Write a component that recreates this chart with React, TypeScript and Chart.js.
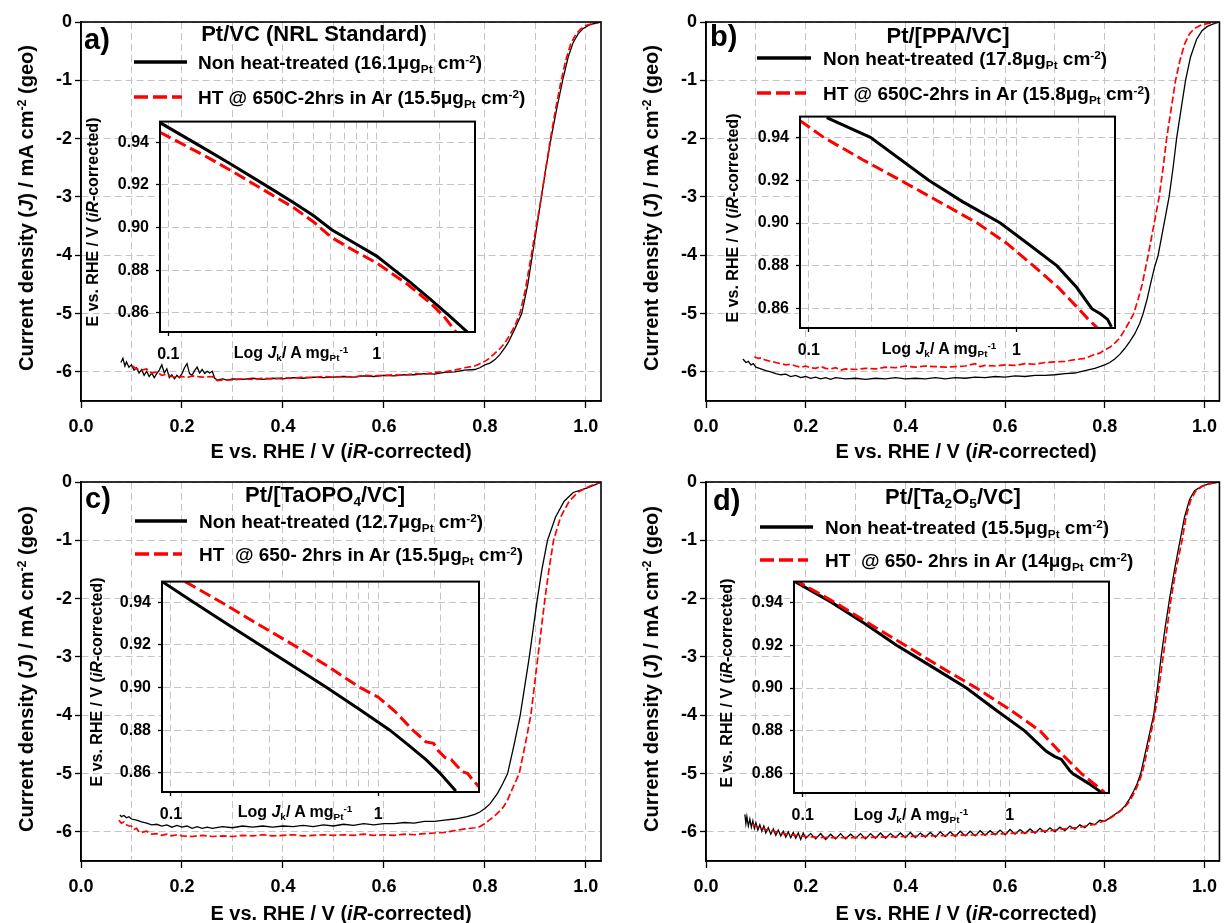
import React, { useEffect, useRef } from 'react';
import { Chart, registerables } from 'chart.js';

Chart.register(...registerables);

type Pt = [number, number];

// ---------------- data (E vs RHE / V, J / mA cm-2) ----------------
const potentialTicks = [0, 0.1, 0.2, 0.3, 0.4, 0.5, 0.6, 0.7, 0.8, 0.9, 1.0];
const currentTicks = [-6, -5, -4, -3, -2, -1, 0];
const logJkTicks = [0.1, 0.2, 0.3, 0.4, 0.5, 0.6, 0.7, 0.8, 0.9, 1, 2];
const logJkLabels = [0.1, 1];
const tafelTicks = [0.86, 0.88, 0.9, 0.92, 0.94];
const tafelRange = [0.851, 0.9497];
const insetLogRanges: Pt[] = [[0.0912, 2.963], [0.0907, 2.987], [0.0905, 3.065], [0.0908, 3.013]];

const panelLetters = ['a)', 'b)', 'c)', 'd)'];
const panelTitles = ['Pt/VC (NRL Standard)', 'Pt/[PPA/VC]', 'Pt/[TaOPO_{4}/VC]', 'Pt/[Ta_{2}O_{5}/VC]'];
const legendNonHT = [
  'Non heat-treated (16.1μg_{Pt} cm^{-2})',
  'Non heat-treated (17.8μg_{Pt} cm^{-2})',
  'Non heat-treated (12.7μg_{Pt} cm^{-2})',
  'Non heat-treated (15.5μg_{Pt} cm^{-2})',
];
const legendHT = [
  'HT @ 650C-2hrs in Ar (15.5μg_{Pt} cm^{-2})',
  'HT @ 650C-2hrs in Ar (15.8μg_{Pt} cm^{-2})',
  'HT  @ 650- 2hrs in Ar (15.5μg_{Pt} cm^{-2})',
  'HT  @ 650- 2hrs in Ar (14μg_{Pt} cm^{-2})',
];
const xTitle = 'E vs. RHE / V (*iR*-corrected)';
const yTitle = 'Current density (*J*) / mA cm^{-2} (geo)';
const insetXTitle = 'Log *J*_{k}/ A mg_{Pt}^{-1}';
const insetYTitle = 'E vs. RHE / V (*iR*-corrected)';

const aNonHT: Pt[] = [[0.079,-5.84],[0.083,-5.77],[0.087,-5.9],[0.09,-5.83],[0.095,-5.92],[0.1,-5.88],[0.105,-5.97],[0.11,-5.93],[0.115,-6.02],[0.12,-5.96],[0.125,-6.06],[0.13,-5.99],[0.135,-6.08],[0.14,-6.02],[0.145,-6.1],[0.15,-6.03],[0.155,-5.97],[0.16,-5.88],[0.165,-6.02],[0.17,-5.95],[0.175,-6.1],[0.18,-6.05],[0.185,-6.12],[0.19,-6.06],[0.195,-6.1],[0.2,-6.03],[0.205,-5.93],[0.21,-5.86],[0.215,-6.03],[0.22,-6.06],[0.225,-5.98],[0.23,-5.92],[0.235,-6.02],[0.24,-5.96],[0.245,-6.03],[0.25,-5.99],[0.255,-6.02],[0.26,-5.99],[0.265,-6.11],[0.27,-6.14],[0.28,-6.12],[0.29,-6.14],[0.3,-6.12],[0.32,-6.13],[0.34,-6.11],[0.36,-6.13],[0.38,-6.11],[0.4,-6.12],[0.42,-6.1],[0.44,-6.11],[0.46,-6.09],[0.48,-6.1],[0.5,-6.09],[0.52,-6.08],[0.54,-6.09],[0.56,-6.07],[0.58,-6.08],[0.6,-6.06],[0.62,-6.07],[0.64,-6.05],[0.66,-6.05],[0.68,-6.03],[0.7,-6.04],[0.72,-6.01],[0.74,-6.0],[0.76,-5.97],[0.78,-5.96],[0.79,-5.93],[0.8,-5.88],[0.81,-5.85],[0.82,-5.79],[0.83,-5.7],[0.84,-5.58],[0.846,-5.5],[0.86,-5.25],[0.873,-5.0],[0.885,-4.5],[0.894,-4.0],[0.903,-3.5],[0.912,-3.0],[0.921,-2.5],[0.931,-2.0],[0.942,-1.5],[0.954,-1.0],[0.965,-0.6],[0.975,-0.35],[0.985,-0.2],[0.995,-0.11],[1.005,-0.06],[1.015,-0.03],[1.03,0]];
const aHT: Pt[] = [[0.102,-5.9],[0.11,-5.95],[0.12,-5.97],[0.13,-5.95],[0.14,-6.02],[0.15,-6.0],[0.16,-6.06],[0.17,-6.04],[0.18,-6.08],[0.19,-6.1],[0.2,-6.08],[0.21,-6.1],[0.22,-6.07],[0.24,-6.09],[0.26,-6.08],[0.27,-6.15],[0.28,-6.14],[0.3,-6.14],[0.32,-6.12],[0.34,-6.13],[0.36,-6.11],[0.38,-6.12],[0.4,-6.1],[0.42,-6.11],[0.44,-6.09],[0.46,-6.1],[0.48,-6.08],[0.5,-6.09],[0.52,-6.08],[0.54,-6.09],[0.56,-6.06],[0.58,-6.07],[0.6,-6.06],[0.62,-6.05],[0.64,-6.06],[0.66,-6.03],[0.68,-6.04],[0.7,-6.01],[0.72,-6.0],[0.74,-5.97],[0.76,-5.93],[0.78,-5.9],[0.79,-5.86],[0.8,-5.82],[0.81,-5.76],[0.82,-5.68],[0.83,-5.6],[0.84,-5.5],[0.85,-5.36],[0.86,-5.2],[0.87,-4.98],[0.88,-4.6],[0.89,-4.1],[0.9,-3.6],[0.91,-3.1],[0.92,-2.55],[0.93,-2.0],[0.94,-1.5],[0.95,-1.05],[0.96,-0.66],[0.97,-0.38],[0.98,-0.21],[0.99,-0.12],[1.0,-0.06],[1.015,-0.02],[1.03,0]];

const bNonHT: Pt[] = [[0.074,-5.78],[0.08,-5.84],[0.085,-5.82],[0.09,-5.88],[0.095,-5.86],[0.1,-5.92],[0.11,-5.95],[0.12,-5.98],[0.13,-6.0],[0.14,-6.03],[0.15,-6.05],[0.16,-6.04],[0.17,-6.08],[0.18,-6.06],[0.19,-6.1],[0.2,-6.08],[0.21,-6.11],[0.22,-6.09],[0.23,-6.12],[0.24,-6.1],[0.25,-6.13],[0.26,-6.1],[0.28,-6.12],[0.3,-6.11],[0.32,-6.13],[0.34,-6.11],[0.36,-6.12],[0.38,-6.1],[0.4,-6.12],[0.42,-6.11],[0.44,-6.12],[0.46,-6.1],[0.48,-6.12],[0.5,-6.1],[0.52,-6.11],[0.54,-6.09],[0.56,-6.1],[0.58,-6.08],[0.6,-6.09],[0.62,-6.07],[0.64,-6.08],[0.66,-6.06],[0.68,-6.06],[0.7,-6.05],[0.72,-6.03],[0.74,-6.02],[0.76,-5.98],[0.78,-5.94],[0.8,-5.88],[0.81,-5.84],[0.82,-5.78],[0.83,-5.7],[0.84,-5.6],[0.85,-5.48],[0.86,-5.35],[0.87,-5.17],[0.877,-5.0],[0.885,-4.75],[0.893,-4.45],[0.9,-4.2],[0.907,-4.0],[0.918,-3.5],[0.929,-3.0],[0.937,-2.5],[0.944,-2.0],[0.953,-1.5],[0.962,-1.0],[0.972,-0.6],[0.984,-0.3],[0.995,-0.15],[1.005,-0.08],[1.015,-0.04],[1.03,0]];
const bHT: Pt[] = [[0.097,-5.74],[0.105,-5.77],[0.11,-5.76],[0.12,-5.8],[0.13,-5.82],[0.14,-5.84],[0.15,-5.86],[0.16,-5.88],[0.17,-5.87],[0.18,-5.9],[0.19,-5.92],[0.2,-5.9],[0.21,-5.93],[0.22,-5.94],[0.23,-5.91],[0.24,-5.94],[0.25,-5.95],[0.26,-5.93],[0.27,-5.97],[0.28,-5.95],[0.3,-5.96],[0.32,-5.94],[0.34,-5.95],[0.36,-5.92],[0.38,-5.93],[0.4,-5.9],[0.42,-5.92],[0.44,-5.9],[0.46,-5.91],[0.48,-5.92],[0.5,-5.91],[0.52,-5.9],[0.54,-5.86],[0.55,-5.91],[0.56,-5.89],[0.58,-5.9],[0.6,-5.88],[0.62,-5.89],[0.64,-5.86],[0.66,-5.87],[0.68,-5.84],[0.7,-5.83],[0.72,-5.82],[0.74,-5.79],[0.76,-5.77],[0.78,-5.7],[0.79,-5.68],[0.8,-5.62],[0.81,-5.58],[0.821,-5.5],[0.83,-5.42],[0.84,-5.28],[0.85,-5.13],[0.858,-5.0],[0.867,-4.75],[0.875,-4.5],[0.881,-4.25],[0.887,-4.0],[0.898,-3.5],[0.909,-3.0],[0.917,-2.5],[0.924,-2.0],[0.933,-1.5],[0.942,-1.0],[0.951,-0.65],[0.96,-0.38],[0.97,-0.2],[0.98,-0.11],[0.994,-0.05],[1.01,-0.02],[1.03,0]];

const cNonHT: Pt[] = [[0.077,-5.71],[0.08,-5.74],[0.085,-5.72],[0.09,-5.76],[0.095,-5.74],[0.1,-5.78],[0.11,-5.8],[0.12,-5.83],[0.13,-5.85],[0.14,-5.88],[0.15,-5.87],[0.16,-5.9],[0.17,-5.88],[0.18,-5.92],[0.19,-5.89],[0.2,-5.92],[0.21,-5.9],[0.22,-5.94],[0.23,-5.91],[0.24,-5.94],[0.25,-5.92],[0.26,-5.94],[0.28,-5.91],[0.3,-5.93],[0.32,-5.9],[0.34,-5.92],[0.36,-5.9],[0.38,-5.92],[0.4,-5.9],[0.42,-5.91],[0.44,-5.89],[0.46,-5.91],[0.48,-5.88],[0.5,-5.9],[0.52,-5.87],[0.54,-5.89],[0.56,-5.86],[0.58,-5.88],[0.6,-5.86],[0.62,-5.86],[0.64,-5.84],[0.66,-5.85],[0.68,-5.82],[0.7,-5.82],[0.72,-5.8],[0.74,-5.78],[0.765,-5.74],[0.78,-5.7],[0.79,-5.66],[0.8,-5.6],[0.81,-5.52],[0.825,-5.34],[0.835,-5.18],[0.845,-5.0],[0.858,-4.5],[0.87,-4.0],[0.879,-3.5],[0.888,-3.0],[0.896,-2.5],[0.904,-2.0],[0.913,-1.5],[0.924,-1.0],[0.94,-0.6],[0.957,-0.33],[0.975,-0.18],[1.003,-0.1],[1.02,-0.04],[1.03,0]];
const cHT: Pt[] = [[0.075,-5.8],[0.08,-5.85],[0.085,-5.83],[0.09,-5.88],[0.095,-5.9],[0.1,-5.9],[0.105,-5.96],[0.11,-5.94],[0.115,-6.0],[0.12,-6.01],[0.13,-5.99],[0.14,-6.04],[0.15,-6.03],[0.16,-6.06],[0.17,-6.04],[0.18,-6.07],[0.19,-6.05],[0.2,-6.07],[0.22,-6.08],[0.24,-6.06],[0.26,-6.08],[0.28,-6.07],[0.3,-6.08],[0.32,-6.06],[0.34,-6.07],[0.36,-6.05],[0.38,-6.07],[0.4,-6.06],[0.42,-6.05],[0.44,-6.07],[0.46,-6.06],[0.48,-6.05],[0.5,-6.06],[0.52,-6.05],[0.54,-6.06],[0.56,-6.04],[0.58,-6.06],[0.6,-6.05],[0.62,-6.06],[0.64,-6.04],[0.66,-6.05],[0.68,-6.03],[0.7,-6.02],[0.72,-6.01],[0.74,-5.98],[0.76,-5.95],[0.78,-5.93],[0.79,-5.91],[0.8,-5.86],[0.81,-5.79],[0.82,-5.72],[0.83,-5.64],[0.837,-5.57],[0.845,-5.45],[0.855,-5.25],[0.868,-5.0],[0.88,-4.5],[0.891,-4.0],[0.898,-3.5],[0.905,-3.0],[0.912,-2.5],[0.919,-2.0],[0.927,-1.5],[0.936,-1.0],[0.95,-0.6],[0.967,-0.33],[0.985,-0.17],[1.005,-0.08],[1.023,-0.02],[1.03,0]];

const dNonHT: Pt[] = [[0.078,-5.7],[0.08,-5.86],[0.082,-5.74],[0.085,-5.9],[0.088,-5.78],[0.091,-5.92],[0.094,-5.81],[0.097,-5.94],[0.1,-5.84],[0.104,-5.97],[0.108,-5.88],[0.112,-5.99],[0.116,-5.9],[0.12,-6.02],[0.125,-5.93],[0.13,-6.04],[0.135,-5.95],[0.14,-6.06],[0.145,-5.97],[0.15,-6.07],[0.155,-5.99],[0.16,-6.09],[0.165,-6.0],[0.17,-6.1],[0.175,-6.01],[0.18,-6.11],[0.185,-6.02],[0.19,-6.13],[0.195,-6.02],[0.2,-6.11],[0.21,-6.03],[0.22,-6.12],[0.23,-6.03],[0.24,-6.13],[0.25,-6.04],[0.26,-6.12],[0.27,-6.03],[0.28,-6.12],[0.29,-6.04],[0.3,-6.11],[0.31,-6.03],[0.32,-6.12],[0.33,-6.03],[0.34,-6.11],[0.35,-6.02],[0.36,-6.11],[0.37,-6.03],[0.38,-6.1],[0.39,-6.02],[0.4,-6.1],[0.41,-6.01],[0.42,-6.1],[0.43,-6.02],[0.44,-6.09],[0.45,-6.01],[0.46,-6.09],[0.47,-6.0],[0.48,-6.08],[0.49,-6.0],[0.5,-6.08],[0.51,-5.99],[0.52,-6.07],[0.53,-5.99],[0.54,-6.07],[0.55,-5.98],[0.56,-6.06],[0.57,-5.98],[0.58,-6.05],[0.59,-5.97],[0.6,-6.05],[0.61,-5.96],[0.62,-6.04],[0.63,-5.96],[0.64,-6.03],[0.65,-5.95],[0.66,-6.02],[0.67,-5.94],[0.68,-6.01],[0.69,-5.93],[0.7,-6.0],[0.71,-5.92],[0.72,-5.98],[0.73,-5.9],[0.74,-5.96],[0.75,-5.88],[0.76,-5.93],[0.77,-5.85],[0.78,-5.88],[0.79,-5.8],[0.8,-5.82],[0.81,-5.76],[0.822,-5.69],[0.832,-5.63],[0.841,-5.55],[0.85,-5.43],[0.858,-5.3],[0.865,-5.17],[0.872,-5.0],[0.885,-4.5],[0.898,-4.0],[0.906,-3.5],[0.913,-3.0],[0.921,-2.5],[0.93,-2.0],[0.94,-1.5],[0.951,-1.0],[0.96,-0.6],[0.97,-0.3],[0.98,-0.15],[0.995,-0.07],[1.01,-0.03],[1.03,0]];
const dHT: Pt[] = [[0.093,-5.87],[0.1,-5.9],[0.12,-5.96],[0.14,-6.0],[0.16,-6.04],[0.18,-6.06],[0.2,-6.08],[0.22,-6.09],[0.25,-6.1],[0.28,-6.1],[0.3,-6.1],[0.35,-6.09],[0.4,-6.08],[0.45,-6.07],[0.5,-6.06],[0.55,-6.05],[0.6,-6.03],[0.65,-6.01],[0.7,-5.97],[0.75,-5.92],[0.78,-5.87],[0.8,-5.81],[0.81,-5.77],[0.822,-5.7],[0.832,-5.64],[0.841,-5.57],[0.85,-5.47],[0.858,-5.35],[0.866,-5.2],[0.875,-5.0],[0.888,-4.5],[0.9,-4.0],[0.909,-3.5],[0.917,-3.0],[0.925,-2.5],[0.933,-2.0],[0.943,-1.5],[0.955,-1.0],[0.963,-0.6],[0.972,-0.32],[0.982,-0.16],[0.996,-0.07],[1.01,-0.03],[1.03,0]];

// Tafel insets: [Jk / A mgPt-1, E / V]
const aTafelNonHT: Pt[] = [[0.0912,0.9492],[0.15,0.9369],[0.2,0.9297],[0.3,0.9192],[0.4,0.9116],[0.5,0.9054],[0.608,0.899],[0.8,0.8922],[1.0,0.8866],[1.2,0.8805],[1.445,0.8744],[1.8,0.8665],[2.2,0.8592],[2.75,0.8506]];
const aTafelHT: Pt[] = [[0.0912,0.9447],[0.15,0.9336],[0.201,0.9266],[0.3,0.9165],[0.4,0.9093],[0.5,0.9025],[0.608,0.8953],[0.8,0.8885],[1.0,0.8834],[1.4,0.8735],[1.8,0.8648],[2.1,0.8584],[2.42,0.8506]];
const bTafelNonHT: Pt[] = [[0.122,0.9492],[0.198,0.94],[0.378,0.92],[0.55,0.91],[0.837,0.9],[1.15,0.89],[1.57,0.88],[1.95,0.87],[2.31,0.86],[2.55,0.8575],[2.75,0.855],[2.87,0.8515]];
const bTafelHT: Pt[] = [[0.0907,0.9478],[0.118,0.94],[0.18,0.9298],[0.276,0.92],[0.42,0.9102],[0.648,0.9],[0.9,0.8905],[1.21,0.88],[1.6,0.8697],[1.995,0.86],[2.2,0.8555],[2.49,0.8505]];
const cTafelNonHT: Pt[] = [[0.0906,0.9497],[0.1285,0.94],[0.185,0.93],[0.269,0.92],[0.39,0.91],[0.564,0.9],[0.8,0.8902],[1.139,0.88],[1.4,0.873],[1.7,0.8662],[1.98,0.86],[2.37,0.8515]];
const cTafelHT: Pt[] = [[0.117,0.9497],[0.175,0.94],[0.26,0.93],[0.39,0.92],[0.57,0.91],[0.817,0.9],[1.0,0.8955],[1.2,0.889],[1.47,0.88],[1.7,0.8745],[1.85,0.8738],[1.95,0.8703],[2.1,0.8672],[2.25,0.8662],[2.4,0.8632],[2.55,0.8605],[2.7,0.8598],[2.85,0.8568],[3.065,0.8535]];
const dTafelNonHT: Pt[] = [[0.0908,0.95],[0.138,0.94],[0.2,0.93],[0.284,0.92],[0.42,0.91],[0.618,0.9],[0.85,0.89],[1.18,0.88],[1.5,0.8705],[1.65,0.868],[1.775,0.8667],[1.945,0.8615],[2.02,0.86],[2.4,0.8555],[2.77,0.8513]];
const dTafelHT: Pt[] = [[0.0908,0.9507],[0.143,0.94],[0.21,0.93],[0.312,0.92],[0.46,0.91],[0.69,0.9],[1.0,0.89],[1.4,0.88],[1.75,0.87],[2.22,0.86],[2.87,0.8513]];

const mainSeries: [Pt[], Pt[]][] = [[aNonHT, aHT], [bNonHT, bHT], [cNonHT, cHT], [dNonHT, dHT]];
const tafelSeries: [Pt[], Pt[]][] = [[aTafelNonHT, aTafelHT], [bTafelNonHT, bTafelHT], [cTafelNonHT, cTafelHT], [dTafelNonHT, dTafelHT]];

// ---------------- layout / style ----------------
const FONT = '"Liberation Sans", Arial, Helvetica, sans-serif';
const GRID = '#c4c4c4';
const RED = '#ff0000';

const mainBoxes = [
  { left: 0, top: 0, w: 612, h: 461, l: 81, t: 22, r: 601, b: 401 },
  { left: 612, top: 0, w: 613, h: 461, l: 94, t: 22, r: 613, b: 401 },
  { left: 0, top: 461, w: 612, h: 462, l: 81, t: 21, r: 601, b: 400 },
  { left: 612, top: 461, w: 613, h: 462, l: 94, t: 21, r: 613, b: 400 },
];
const insetBoxes = [
  { l: 160, t: 113, r: 475, b: 332 },
  { l: 800, t: 108, r: 1115, b: 328 },
  { l: 162, t: 573, r: 479, b: 792 },
  { l: 794, t: 573, r: 1109, b: 793 },
];
const textPos = [
  { letter: [84, 39], title: [314, 34], leg1: 62, leg2: 97, lineX: [134, 187], textX: 198, yT: [26, 208], xT: [341, 451], iy: [93, 222], ix: [291, 353] },
  { letter: [710, 36], title: [948, 36], leg1: 58, leg2: 93, lineX: [757, 811], textX: 823, yT: [651, 208], xT: [966, 451], iy: [733, 218], ix: [939, 349] },
  { letter: [85, 498], title: [325, 495], leg1: 521, leg2: 554, lineX: [135, 187], textX: 199, yT: [26, 669], xT: [341, 913], iy: [97, 682], ix: [295, 812] },
  { letter: [713, 500], title: [953, 497], leg1: 527, leg2: 560, lineX: [760, 813], textX: 825, yT: [651, 669], xT: [966, 913], iy: [727, 683], ix: [911, 815] },
];

const framePlugin = {
  id: 'frame',
  beforeDraw(chart: any, _a: any, opts: any) {
    if (!opts || !opts.fill) return;
    const { ctx, chartArea: c } = chart;
    ctx.save();
    ctx.fillStyle = opts.fill;
    ctx.fillRect(c.left, c.top, c.right - c.left, c.bottom - c.top);
    ctx.restore();
  },
  afterDraw(chart: any, _a: any, opts: any) {
    const { ctx, chartArea: c } = chart;
    ctx.save();
    ctx.strokeStyle = '#000';
    ctx.lineWidth = (opts && opts.lw) || 1.5;
    ctx.setLineDash([]);
    ctx.strokeRect(c.left, c.top, c.right - c.left, c.bottom - c.top);
    ctx.restore();
  },
};

const toXY = (pts: Pt[]) => pts.map(([x, y]) => ({ x, y }));

function mainConfig(i: number): any {
  const m = mainBoxes[i];
  const XH = 40;
  const [black, red] = mainSeries[i];
  return {
    type: 'line',
    data: {
      datasets: [
        { label: 'Non heat-treated', data: toXY(black), borderColor: '#000', borderWidth: 1.3, pointRadius: 0, tension: 0, fill: false, order: 1 },
        { label: 'HT', data: toXY(red), borderColor: RED, borderWidth: 1.7, borderDash: [7, 3], pointRadius: 0, tension: 0, fill: false, order: 0 },
      ],
    },
    options: {
      responsive: false,
      animation: false,
      devicePixelRatio: 1,
      events: [],
      parsing: false,
      layout: { autoPadding: false, padding: { left: 0, top: m.t, right: m.w - m.r, bottom: m.h - m.b - XH } },
      plugins: { legend: { display: false }, tooltip: { enabled: false }, frame: { lw: 1.6 } },
      scales: {
        x: {
          type: 'linear', min: 0, max: 1.03,
          afterBuildTicks: (s: any) => { s.ticks = potentialTicks.map((v) => ({ value: v })); },
          afterFit: (s: any) => { s.height = XH; },
          ticks: {
            autoSkip: false, maxRotation: 0, padding: 8, color: '#000',
            font: { family: FONT, size: 18, weight: 'bold' },
            callback: (v: number) => (Math.round(v * 10) % 2 === 0 ? v.toFixed(1) : ''),
          },
          grid: {
            color: GRID, lineWidth: 1, tickLength: 7, tickWidth: 1.3,
            tickColor: (ctx: any) => (ctx.tick && Math.round(ctx.tick.value * 10) % 2 === 0 ? '#000' : 'rgba(0,0,0,0)'),
          },
          border: { color: '#000', width: 1.6, dash: [7, 4] },
        },
        y: {
          type: 'linear', min: -6.5, max: 0,
          afterBuildTicks: (s: any) => { s.ticks = currentTicks.map((v) => ({ value: v })); },
          afterFit: (s: any) => { s.width = m.l; },
          ticks: { padding: 3, color: '#000', font: { family: FONT, size: 18, weight: 'bold' }, callback: (v: number) => String(v) },
          grid: { color: GRID, lineWidth: 1, tickLength: 6, tickWidth: 1.3, tickColor: '#000' },
          border: { color: '#000', width: 1.6, dash: [7, 4] },
        },
      },
    },
    plugins: [framePlugin],
  };
}

const IL = 52, IT = 8, IR = 8, IXH = 38;

function insetConfig(i: number): any {
  const b = insetBoxes[i];
  const [black, red] = tafelSeries[i];
  const [xmin, xmax] = insetLogRanges[i];
  return {
    type: 'line',
    data: {
      datasets: [
        { label: 'Non heat-treated', data: toXY(black), borderColor: '#000', borderWidth: 3, pointRadius: 0, tension: 0, fill: false, order: 1 },
        { label: 'HT', data: toXY(red), borderColor: RED, borderWidth: 3, borderDash: [12, 5], pointRadius: 0, tension: 0, fill: false, order: 0 },
      ],
    },
    options: {
      responsive: false,
      animation: false,
      devicePixelRatio: 1,
      events: [],
      parsing: false,
      layout: { autoPadding: false, padding: { left: 0, top: IT, right: IR, bottom: 0 } },
      plugins: { legend: { display: false }, tooltip: { enabled: false }, frame: { lw: 2, fill: '#fff' } },
      scales: {
        x: {
          type: 'logarithmic', min: xmin, max: xmax,
          afterBuildTicks: (s: any) => { s.ticks = logJkTicks.map((v) => ({ value: v })); },
          afterFit: (s: any) => { s.height = IXH; },
          ticks: {
            autoSkip: false, maxRotation: 0, padding: 9, color: '#000',
            font: { family: FONT, size: 16, weight: 'bold' },
            callback: (v: number) => (logJkLabels.includes(v) ? String(v) : ''),
          },
          grid: {
            color: GRID, lineWidth: 1, tickLength: 4, tickWidth: 1.3,
            tickColor: (ctx: any) => (ctx.tick && logJkLabels.includes(ctx.tick.value) ? '#000' : 'rgba(0,0,0,0)'),
          },
          border: { color: '#000', width: 2, dash: [7, 4] },
        },
        y: {
          type: 'linear', min: tafelRange[0], max: tafelRange[1],
          afterBuildTicks: (s: any) => { s.ticks = tafelTicks.map((v) => ({ value: v })); },
          afterFit: (s: any) => { s.width = IL; },
          ticks: { padding: 7, color: '#000', font: { family: FONT, size: 16, weight: 'bold' }, callback: (v: number) => v.toFixed(2) },
          grid: { color: GRID, lineWidth: 1, tickLength: 4, tickWidth: 1.3, tickColor: '#000' },
          border: { color: '#000', width: 2, dash: [7, 4] },
        },
      },
    },
    plugins: [framePlugin],
  };
}

function ChartCanvas({ left, top, w, h, make }: { left: number; top: number; w: number; h: number; make: () => any }) {
  const ref = useRef<HTMLCanvasElement>(null);
  useEffect(() => {
    const chart = new Chart(ref.current as HTMLCanvasElement, make());
    return () => chart.destroy();
  }, []);
  return (
    <canvas
      ref={ref}
      width={w}
      height={h}
      style={{ position: 'absolute', left, top, width: w, height: h, display: 'block' }}
    />
  );
}

const subStyle: React.CSSProperties = { fontSize: '0.62em', position: 'relative', top: '0.32em' };
const supStyle: React.CSSProperties = { fontSize: '0.62em', position: 'relative', top: '-0.55em' };

function rich(s: string) {
  const parts = s.split(/(_\{[^}]*\}|\^\{[^}]*\}|\*[^*]+\*)/g);
  return parts.filter((p) => p !== '').map((p, k) => {
    if (p.startsWith('_{')) return <span key={k} style={subStyle}>{p.slice(2, -1)}</span>;
    if (p.startsWith('^{')) return <span key={k} style={supStyle}>{p.slice(2, -1)}</span>;
    if (p.startsWith('*') && p.endsWith('*')) return <i key={k}>{p.slice(1, -1)}</i>;
    return <React.Fragment key={k}>{p}</React.Fragment>;
  });
}

const base: React.CSSProperties = {
  position: 'absolute', fontFamily: FONT, fontWeight: 'bold', color: '#000', whiteSpace: 'pre', lineHeight: 1,
};

function Panel({ i }: { i: number }) {
  const m = mainBoxes[i];
  const b = insetBoxes[i];
  const t = textPos[i];
  const iw = b.r - b.l + IL + IR;
  const ih = b.b - b.t + IT + IXH;
  return (
    <>
      <ChartCanvas left={m.left} top={m.top} w={m.w} h={m.h} make={() => mainConfig(i)} />
      <ChartCanvas left={b.l - IL} top={b.t - IT} w={iw} h={ih} make={() => insetConfig(i)} />
      <div style={{ ...base, left: t.letter[0], top: t.letter[1], transform: 'translateY(-50%)', fontSize: 29 }}>{panelLetters[i]}</div>
      <div style={{ ...base, left: t.title[0], top: t.title[1], transform: 'translate(-50%,-50%)', fontSize: 22 }}>{rich(panelTitles[i])}</div>
      <div style={{ ...base, left: t.textX, top: t.leg1, transform: 'translateY(-50%)', fontSize: 19 }}>{rich(legendNonHT[i])}</div>
      <div style={{ ...base, left: t.textX, top: t.leg2, transform: 'translateY(-50%)', fontSize: 19 }}>{rich(legendHT[i])}</div>
      <div style={{ ...base, left: t.yT[0], top: t.yT[1], transform: 'translate(-50%,-50%) rotate(-90deg)', fontSize: 20 }}>{rich(yTitle)}</div>
      <div style={{ ...base, left: t.xT[0], top: t.xT[1], transform: 'translate(-50%,-50%)', fontSize: 20 }}>{rich(xTitle)}</div>
      <div style={{ ...base, left: t.iy[0], top: t.iy[1], transform: 'translate(-50%,-50%) rotate(-90deg)', fontSize: 16 }}>{rich(insetYTitle)}</div>
      <div style={{ ...base, left: t.ix[0], top: t.ix[1], transform: 'translate(-50%,-50%)', fontSize: 16 }}>{rich(insetXTitle)}</div>
    </>
  );
}

export default function App() {
  return (
    <div style={{ position: 'absolute', left: 0, top: 0, width: 1225, height: 923, background: '#fff', overflow: 'hidden' }}>
      {[0, 1, 2, 3].map((i) => <Panel key={i} i={i} />)}
      <svg width={1225} height={923} style={{ position: 'absolute', left: 0, top: 0, pointerEvents: 'none' }}>
        {textPos.map((t, i) => (
          <g key={i}>
            <line x1={t.lineX[0]} x2={t.lineX[1]} y1={t.leg1} y2={t.leg1} stroke="#000" strokeWidth={3.5} />
            <line x1={t.lineX[0]} x2={t.lineX[1] - 5} y1={t.leg2} y2={t.leg2} stroke={RED} strokeWidth={3.5} strokeDasharray="14 5" />
          </g>
        ))}
      </svg>
    </div>
  );
}
